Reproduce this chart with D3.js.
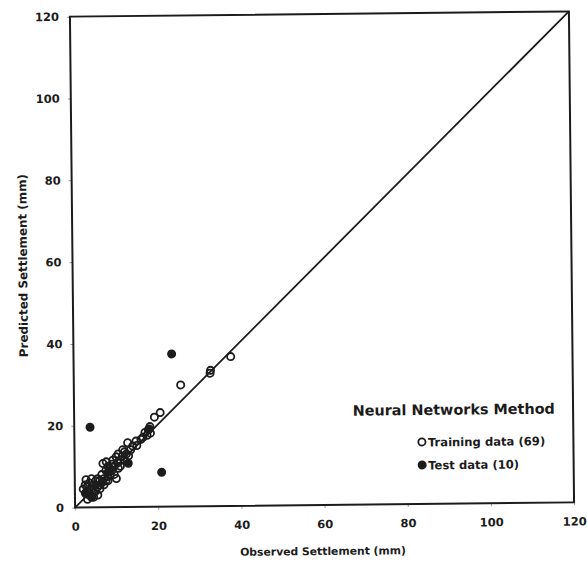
<!DOCTYPE html>
<html>
<head>
<meta charset="utf-8">
<script src="https://cdn.jsdelivr.net/npm/d3@7"></script>
<style>
  html, body { margin: 0; padding: 0; background: #fff; }
  svg { display: block; }
  text { font-family: "DejaVu Sans", "Liberation Sans", Arial, sans-serif; font-weight: bold; fill: #1c1c1c; }
</style>
</head>
<body>
<svg id="chart" width="587" height="562"></svg>
<script>
// Observed vs. predicted settlement (mm)
const trainObserved = [37.8, 32.9, 32.8, 25.7, 20.7, 19.3, 18.2, 17.8, 17.0, 18.3,
  14.8, 12.8, 14.0, 11.6, 12.5, 10.0, 9.2, 7.6, 6.8, 10.4,
  11.0, 9.5, 8.5, 10.0, 2.7, 3.5, 2.0, 3.0, 4.0, 4.5,
  3.5, 5.0, 5.5, 6.0, 6.0, 4.5, 7.0, 7.0, 7.5, 8.0,
  8.5, 9.0, 6.5, 5.5, 7.5, 8.0, 9.0, 10.5, 11.0, 12.0,
  13.0, 11.5, 3.0, 2.5, 4.0, 5.0, 6.0, 3.0, 4.5, 9.5,
  13.5, 16.0, 15.0, 17.5, 10.5, 8.0, 5.5, 12.0, 16.5];
const trainPredicted = [36.5, 33.2, 32.5, 29.7, 23.0, 21.9, 19.6, 18.8, 18.2, 18.0,
  16.1, 15.7, 14.9, 14.0, 13.0, 12.3, 11.5, 11.1, 10.7, 10.8,
  11.5, 10.0, 9.5, 7.0, 6.8, 6.0, 4.5, 4.0, 4.5, 3.5,
  3.0, 4.0, 5.0, 4.5, 6.5, 5.5, 5.5, 7.0, 6.5, 7.5,
  8.0, 9.0, 8.0, 7.0, 9.0, 10.0, 10.5, 9.5, 10.0, 11.5,
  12.5, 12.5, 2.0, 5.5, 7.0, 6.5, 5.5, 5.0, 2.5, 8.0,
  14.0, 16.5, 15.0, 17.5, 13.0, 6.5, 3.0, 13.5, 17.0];

const testObserved = [3.8, 20.9, 23.6, 12.9, 18.0, 2.5, 4.0, 5.0, 6.5, 8.0];
const testPredicted = [19.6, 8.4, 37.3, 10.7, 19.0, 3.5, 2.5, 5.5, 6.0, 8.5];

const tickValues = [0, 20, 40, 60, 80, 100, 120];
const xTitle = "Observed Settlement (mm)";
const yTitle = "Predicted Settlement (mm)";
const legendTitle = "Neural Networks Method";
const legendLabels = ["Training data (69)", "Test data (10)"];

const frame = { left: 72.5, right: 571.5, top: 14, bottom: 505 };
const ink = "#1c1c1c";
const font = "'DejaVu Sans', 'Liberation Sans', Arial, sans-serif";

const svg = d3.select("#chart");
const cx = (frame.left + frame.right) / 2, cy = (frame.top + frame.bottom) / 2;
const g = svg.append("g").attr("transform", `rotate(-0.6 ${cx} ${cy})`);

const x = d3.scaleLinear().domain([0, 120]).range([frame.left, frame.right]);
const y = d3.scaleLinear().domain([0, 120]).range([frame.bottom, frame.top]);

// axes with short outward ticks
const xAxis = d3.axisBottom(x).tickValues(tickValues).tickSize(3).tickPadding(12);
const yAxis = d3.axisLeft(y).tickValues(tickValues).tickSize(3).tickPadding(8);

const gx = g.append("g").attr("transform", `translate(0,${frame.bottom})`).call(xAxis);
const gy = g.append("g").attr("transform", `translate(${frame.left},0)`).call(yAxis);
[gx, gy].forEach(a => {
  a.select(".domain").remove();
  a.selectAll(".tick line").attr("stroke", "#999").attr("stroke-width", 1);
  a.selectAll(".tick text").style("font-size", "11.5px").attr("fill", ink)
    .style("font-family", font).style("font-weight", "bold");
});

// frame box
g.append("rect")
  .attr("x", x(0)).attr("y", y(120))
  .attr("width", x(120) - x(0)).attr("height", y(0) - y(120))
  .attr("fill", "none").attr("stroke", ink).attr("stroke-width", 2);

// 1:1 line
g.append("line")
  .attr("x1", x(0)).attr("y1", y(0)).attr("x2", x(120)).attr("y2", y(120))
  .attr("stroke", ink).attr("stroke-width", 1.8);

// training points (open)
g.append("g").selectAll("circle")
  .data(d3.range(trainObserved.length))
  .join("circle")
  .attr("cx", i => x(trainObserved[i]))
  .attr("cy", i => y(trainPredicted[i]))
  .attr("r", 3.6)
  .attr("fill", "none")
  .attr("stroke", ink)
  .attr("stroke-width", 1.8);

// test points (filled)
g.append("g").selectAll("circle")
  .data(d3.range(testObserved.length))
  .join("circle")
  .attr("cx", i => x(testObserved[i]))
  .attr("cy", i => y(testPredicted[i]))
  .attr("r", 4.5)
  .attr("fill", ink);

// axis titles
g.append("text")
  .attr("x", cx - 2).attr("y", 555)
  .attr("text-anchor", "middle")
  .style("font-size", "10.8px")
  .text(xTitle);

g.append("text")
  .attr("transform", `translate(27,${cy + 3}) rotate(-90)`)
  .attr("text-anchor", "middle")
  .style("font-size", "11.9px")
  .text(yTitle);

// legend
g.append("text")
  .attr("x", 351).attr("y", 416)
  .style("font-size", "14.4px")
  .text(legendTitle);

const legendRows = [
  { y: 443, filled: false },
  { y: 466, filled: true }
];
legendRows.forEach((row, i) => {
  g.append("circle")
    .attr("cx", 420).attr("cy", row.y)
    .attr("r", row.filled ? 4.5 : 3.6)
    .attr("fill", row.filled ? ink : "#fff")
    .attr("stroke", ink)
    .attr("stroke-width", row.filled ? 0 : 1.8);
  g.append("text")
    .attr("x", 426).attr("y", row.y + 4.5)
    .style("font-size", "11.6px")
    .text(legendLabels[i]);
});
</script>
</body>
</html>
